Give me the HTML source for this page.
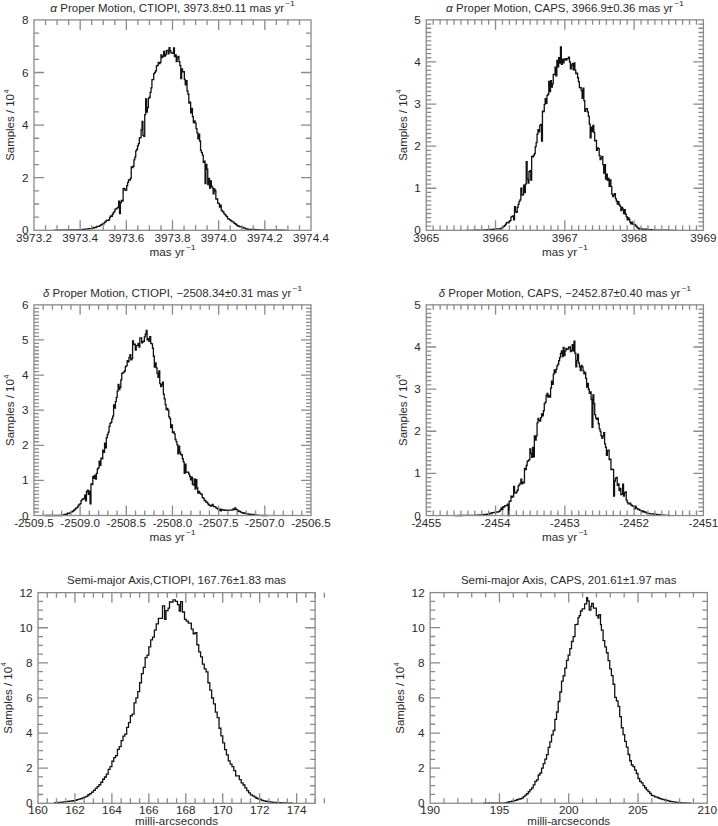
<!DOCTYPE html>
<html><head><meta charset="utf-8"><style>
html,body{margin:0;padding:0;background:#fff;}
svg{display:block;}
text{font-family:"Liberation Sans",sans-serif;fill:#2a2a2a;}
</style></head><body>
<svg width="718" height="826" viewBox="0 0 718 826">
<rect width="718" height="826" fill="#fff"/>
<path d="M53.81,230.30L53.81,230.30H54.71V230.29H55.61V230.27H56.51V230.26H57.41V230.24H58.31V230.22H59.21V230.20H60.11V230.18H61.01V230.15H61.91V230.15H62.81V230.13H63.71V230.09H64.61V230.08H65.51V230.06H66.41V230.05H67.31V230.05H68.21V230.01H69.11V229.99H70.01V229.99H70.91V229.97H71.81V229.94H72.71V229.93H73.61V229.90H74.51V229.90H75.41V229.86H76.31V229.95H77.21V229.81H78.11V229.79H79.01V229.78H79.91V229.78H80.81V229.63H81.71V229.56H82.61V229.42H83.51V229.38H84.41V229.17H85.31V229.14H86.21V229.12H87.11V228.94H88.02V228.83H88.92V228.71H89.82V228.69H90.72V228.61H91.62V228.32H92.52V228.12H93.42V227.76H94.32V227.36H95.22V227.51H96.12V226.87H97.02V226.39H97.92V226.43H98.82V226.32H99.72V225.59H100.62V224.94H101.52V224.48H102.42V223.90H103.32V223.95H104.22V222.41H105.12V221.90H106.02V220.62H106.92V220.19H107.82V220.46H108.72V219.91H109.62V217.42H110.52V215.96H111.42V216.30H112.32V214.26H113.22V212.56H114.12V211.34H115.02V209.10H115.92V208.83H116.82V208.20H117.72V207.46H118.62V201.03H119.52V213.60H120.42V202.53H121.32V200.38H122.22V201.18H123.12V188.40H124.03V188.74H124.93V190.27H125.83V190.18H126.73V185.53H127.63V182.43H128.53V179.90H129.43V180.00H130.33V178.33H131.23V166.82H132.13V167.63H133.03V166.23H133.93V159.81H134.83V157.15H135.73V150.83H136.63V149.31H137.53V145.81H138.43V143.65H139.33V137.94H140.23V137.58H141.13V129.62H142.03V121.31H142.93V135.29H143.83V136.38H144.73V114.64H145.63V98.97H146.53V112.18H147.43V107.60H148.33V98.36H149.23V97.23H150.13V92.46H151.03V87.80H151.93V79.69H152.83V79.68H153.73V73.54H154.63V72.39H155.53V70.89H156.43V65.85H157.33V65.46H158.23V62.36H159.13V63.57H160.04V62.32H160.94V54.82H161.84V57.62H162.74V56.45H163.64V51.29H164.54V56.12H165.44V54.52H166.34V50.58H167.24V50.29H168.14V53.88H169.04V47.57H169.94V50.75H170.84V52.55H171.74V53.07H172.64V53.36H173.54V47.92H174.44V56.72H175.34V54.95H176.24V61.53H177.14V57.49H178.04V56.41H178.94V61.59H179.84V65.61H180.74V78.52H181.64V68.79H182.54V71.85H183.44V71.72H184.34V79.48H185.24V84.94H186.14V80.77H187.04V90.98H187.94V94.24H188.84V103.19H189.74V102.12H190.64V112.74H191.54V108.41H192.44V116.68H193.34V122.68H194.24V120.95H195.14V123.22H196.05V128.70H196.95V132.83H197.85V138.91H198.75V134.11H199.65V140.99H200.55V150.36H201.45V152.53H202.35V155.08H203.25V162.43H204.15V161.27H205.05V183.48H205.95V164.33H206.85V169.16H207.75V184.54H208.65V178.34H209.55V188.21H210.45V180.98H211.35V186.24H212.25V187.94H213.15V193.85H214.05V188.81H214.95V190.73H215.85V199.19H216.75V199.02H217.65V203.03H218.55V203.66H219.45V207.15H220.35V205.14H221.25V210.22H222.15V211.47H223.05V212.02H223.95V213.96H224.85V214.66H225.75V215.97H226.65V216.69H227.55V218.91H228.45V218.83H229.35V219.71H230.25V220.44H231.15V220.93H232.06V221.79H232.96V221.92H233.86V223.04H234.76V223.62H235.66V224.27H236.56V225.06H237.46V225.98H238.36V225.89H239.26V226.56H240.16V226.81H241.06V226.93H241.96V227.21H242.86V227.65H243.76V228.22H244.66V228.19H245.56V228.94H246.46V228.98H247.36V229.14H248.26V229.35H249.16V229.40H250.06V229.38H250.96V229.45H251.86V229.48H252.76V229.58H253.66V229.52H254.56V229.56H255.46V229.59H256.36V229.74H257.26V229.59H258.16V229.82H259.06V229.88H259.96V229.93H260.86V229.97H261.76V230.03H262.66V230.07H263.56V230.13H264.46V230.17H265.36V230.17H266.26V230.18H267.16V230.19H268.07V230.19H268.97V230.19H269.87V230.20H270.77V230.21H271.67V230.21H272.57V230.22H273.47V230.22H274.37V230.23H275.27V230.23H276.17V230.24H277.07V230.24H277.97V230.25H278.87V230.25H279.77V230.25H280.67V230.26H281.57V230.27H282.47V230.27H283.37V230.28H284.27V230.28H285.17V230.29H286.07V230.29H286.97V230.30H287.87" fill="none" stroke="#111" stroke-width="1.3" stroke-linejoin="miter"/>
<path d="M45.54,230.30v-5M45.54,19.90v5M57.08,230.30v-5M57.08,19.90v5M68.63,230.30v-5M68.63,19.90v5M80.17,230.30v-10M80.17,19.90v10M91.71,230.30v-5M91.71,19.90v5M103.25,230.30v-5M103.25,19.90v5M114.79,230.30v-5M114.79,19.90v5M126.33,230.30v-10M126.33,19.90v10M137.87,230.30v-5M137.87,19.90v5M149.42,230.30v-5M149.42,19.90v5M160.96,230.30v-5M160.96,19.90v5M172.50,230.30v-10M172.50,19.90v10M184.04,230.30v-5M184.04,19.90v5M195.58,230.30v-5M195.58,19.90v5M207.12,230.30v-5M207.12,19.90v5M218.67,230.30v-10M218.67,19.90v10M230.21,230.30v-5M230.21,19.90v5M241.75,230.30v-5M241.75,19.90v5M253.29,230.30v-5M253.29,19.90v5M264.83,230.30v-10M264.83,19.90v10M276.37,230.30v-5M276.37,19.90v5M287.92,230.30v-5M287.92,19.90v5M299.46,230.30v-5M299.46,19.90v5M34.00,217.15h5M311.00,217.15h-5M34.00,204.00h5M311.00,204.00h-5M34.00,190.85h5M311.00,190.85h-5M34.00,177.70h10M311.00,177.70h-10M34.00,164.55h5M311.00,164.55h-5M34.00,151.40h5M311.00,151.40h-5M34.00,138.25h5M311.00,138.25h-5M34.00,125.10h10M311.00,125.10h-10M34.00,111.95h5M311.00,111.95h-5M34.00,98.80h5M311.00,98.80h-5M34.00,85.65h5M311.00,85.65h-5M34.00,72.50h10M311.00,72.50h-10M34.00,59.35h5M311.00,59.35h-5M34.00,46.20h5M311.00,46.20h-5M34.00,33.05h5M311.00,33.05h-5" fill="none" stroke="#8a8a8a" stroke-width="1.3"/>
<rect x="34.00" y="19.90" width="277.00" height="210.40" fill="none" stroke="#8a8a8a" stroke-width="1.3"/>
<text x="34.00" y="241.90" font-size="10.40" text-anchor="middle" textLength="35.87" lengthAdjust="spacingAndGlyphs">3973.2</text>
<text x="80.17" y="241.90" font-size="10.40" text-anchor="middle" textLength="35.87" lengthAdjust="spacingAndGlyphs">3973.4</text>
<text x="126.33" y="241.90" font-size="10.40" text-anchor="middle" textLength="35.87" lengthAdjust="spacingAndGlyphs">3973.6</text>
<text x="172.50" y="241.90" font-size="10.40" text-anchor="middle" textLength="35.87" lengthAdjust="spacingAndGlyphs">3973.8</text>
<text x="218.67" y="241.90" font-size="10.40" text-anchor="middle" textLength="35.87" lengthAdjust="spacingAndGlyphs">3974.0</text>
<text x="264.83" y="241.90" font-size="10.40" text-anchor="middle" textLength="35.87" lengthAdjust="spacingAndGlyphs">3974.2</text>
<text x="311.00" y="241.90" font-size="10.40" text-anchor="middle" textLength="35.87" lengthAdjust="spacingAndGlyphs">3974.4</text>
<text x="28.50" y="234.30" font-size="10.40" text-anchor="end" textLength="6.52" lengthAdjust="spacingAndGlyphs">0</text>
<text x="28.50" y="181.70" font-size="10.40" text-anchor="end" textLength="6.52" lengthAdjust="spacingAndGlyphs">2</text>
<text x="28.50" y="129.10" font-size="10.40" text-anchor="end" textLength="6.52" lengthAdjust="spacingAndGlyphs">4</text>
<text x="28.50" y="76.50" font-size="10.40" text-anchor="end" textLength="6.52" lengthAdjust="spacingAndGlyphs">6</text>
<text x="28.50" y="23.90" font-size="10.40" text-anchor="end" textLength="6.52" lengthAdjust="spacingAndGlyphs">8</text>
<text x="50.32" y="11.60" font-size="10.40" text-anchor="start" textLength="6.76" lengthAdjust="spacingAndGlyphs" font-style="italic">α</text>
<text x="60.34" y="11.60" font-size="10.40" text-anchor="start" textLength="223.72" lengthAdjust="spacingAndGlyphs">Proper Motion, CTIOPI, 3973.8±0.11 mas yr</text>
<text x="284.86" y="6.00" font-size="6.90" text-anchor="start" textLength="10.02" lengthAdjust="spacingAndGlyphs">−1</text>
<text x="149.62" y="255.70" font-size="10.40" text-anchor="start" textLength="35.14" lengthAdjust="spacingAndGlyphs">mas yr</text>
<text x="185.56" y="250.10" font-size="6.90" text-anchor="start" textLength="10.02" lengthAdjust="spacingAndGlyphs">−1</text>
<g transform="translate(14.40,160.86) rotate(-90)"><text x="0.00" y="0.00" font-size="10.40" text-anchor="start" textLength="66.79" lengthAdjust="spacingAndGlyphs">Samples / 10</text><text x="67.29" y="-5.60" font-size="6.90" text-anchor="start" textLength="4.33" lengthAdjust="spacingAndGlyphs">4</text></g>
<path d="M464.98,230.35L464.98,230.35H465.88V230.34H466.78V230.33H467.68V230.33H468.58V230.32H469.49V230.31H470.39V230.30H471.29V230.30H472.19V230.30H473.09V230.28H473.99V230.27H474.89V230.27H475.79V230.26H476.69V230.24H477.59V230.25H478.49V230.25H479.39V230.24H480.29V230.23H481.19V230.23H482.10V230.16H483.00V230.08H483.90V230.00H484.80V229.96H485.70V229.89H486.60V229.84H487.50V229.77H488.40V229.65H489.30V229.55H490.20V229.50H491.10V229.46H492.00V229.34H492.90V229.29H493.81V229.27H494.71V229.22H495.61V228.88H496.51V228.95H497.41V228.87H498.31V228.90H499.21V228.86H500.11V228.59H501.01V228.37H501.91V227.73H502.81V226.92H503.71V226.41H504.61V225.32H505.51V224.09H506.42V222.69H507.32V222.50H508.22V222.80H509.12V221.27H510.02V220.62H510.92V217.17H511.82V216.42H512.72V216.02H513.62V219.91H514.52V206.55H515.42V211.76H516.32V212.41H517.22V207.27H518.13V204.40H519.03V201.40H519.93V199.87H520.83V188.16H521.73V195.17H522.63V194.82H523.53V185.19H524.43V192.49H525.33V184.08H526.23V161.66H527.13V179.40H528.03V183.19H528.93V171.69H529.83V170.62H530.74V180.11H531.64V156.52H532.54V156.82H533.44V155.32H534.34V153.60H535.24V146.57H536.14V142.68H537.04V134.07H537.94V129.55H538.84V131.97H539.74V125.32H540.64V124.47H541.54V141.03H542.45V111.12H543.35V111.71H544.25V104.36H545.15V98.76H546.05V103.43H546.95V95.33H547.85V94.23H548.75V81.37H549.65V91.65H550.55V80.55H551.45V86.99H552.35V83.89H553.25V74.46H554.15V74.55H555.06V67.16H555.96V75.76H556.86V60.46H557.76V66.76H558.66V57.69H559.56V62.99H560.46V47.02H561.36V64.44H562.26V59.17H563.16V62.85H564.06V59.57H564.96V58.57H565.86V60.12H566.77V58.95H567.67V58.49H568.57V57.23H569.47V61.82H570.37V68.86H571.27V65.27H572.17V63.64H573.07V69.85H573.97V62.93H574.87V70.04H575.77V73.71H576.67V73.13H577.57V77.76H578.47V81.76H579.38V87.51H580.28V87.74H581.18V90.53H582.08V98.28H582.98V88.05H583.88V100.66H584.78V111.25H585.68V109.01H586.58V108.68H587.48V111.93H588.38V116.37H589.28V124.09H590.18V137.82H591.08V127.14H591.99V131.69H592.89V125.32H593.79V132.39H594.69V140.89H595.59V140.33H596.49V150.46H597.39V147.86H598.29V148.61H599.19V155.62H600.09V159.63H600.99V158.17H601.89V156.40H602.79V164.59H603.70V173.04H604.60V164.53H605.50V179.16H606.40V174.25H607.30V180.33H608.20V178.40H609.10V186.32H610.00V179.79H610.90V186.62H611.80V194.06H612.70V196.62H613.60V195.21H614.50V193.56H615.40V198.62H616.31V201.01H617.21V204.09H618.11V201.71H619.01V204.75H619.91V206.36H620.81V210.60H621.71V207.29H622.61V209.04H623.51V213.59H624.41V209.65H625.31V214.23H626.21V216.61H627.11V219.97H628.02V217.77H628.92V219.47H629.82V222.18H630.72V223.96H631.62V222.10H632.52V224.17H633.42V224.70H634.32V224.50H635.22V225.49H636.12V226.45H637.02V227.58H637.92V228.05H638.82V229.00H639.72V228.77H640.63V228.85H641.53V229.01H642.43V229.16H643.33V229.07H644.23V229.19H645.13V229.21H646.03V229.32H646.93V229.48H647.83V229.57H648.73V229.69H649.63V229.71H650.53V229.76H651.43V229.87H652.34V229.89H653.24V230.04H654.14V230.12H655.04V230.15H655.94V230.17H656.84V230.14H657.74V230.18H658.64V230.19H659.54V230.20H660.44V230.20H661.34V230.22H662.24V230.21H663.14V230.23H664.04V230.23H664.95V230.25H665.85V230.25H666.75V230.26H667.65V230.27H668.55V230.26H669.45V230.28H670.35V230.29H671.25V230.30H672.15V230.30H673.05V230.31H673.95V230.32H674.85V230.33H675.75V230.34H676.66V230.34H677.56" fill="none" stroke="#111" stroke-width="1.3" stroke-linejoin="miter"/>
<path d="M433.18,230.35v-5M433.18,19.85v5M440.11,230.35v-5M440.11,19.85v5M447.04,230.35v-5M447.04,19.85v5M453.97,230.35v-5M453.97,19.85v5M460.89,230.35v-5M460.89,19.85v5M467.82,230.35v-5M467.82,19.85v5M474.75,230.35v-5M474.75,19.85v5M481.68,230.35v-5M481.68,19.85v5M488.61,230.35v-5M488.61,19.85v5M495.54,230.35v-10M495.54,19.85v10M502.47,230.35v-5M502.47,19.85v5M509.39,230.35v-5M509.39,19.85v5M516.32,230.35v-5M516.32,19.85v5M523.25,230.35v-5M523.25,19.85v5M530.18,230.35v-5M530.18,19.85v5M537.11,230.35v-5M537.11,19.85v5M544.04,230.35v-5M544.04,19.85v5M550.97,230.35v-5M550.97,19.85v5M557.90,230.35v-5M557.90,19.85v5M564.83,230.35v-10M564.83,19.85v10M571.75,230.35v-5M571.75,19.85v5M578.68,230.35v-5M578.68,19.85v5M585.61,230.35v-5M585.61,19.85v5M592.54,230.35v-5M592.54,19.85v5M599.47,230.35v-5M599.47,19.85v5M606.40,230.35v-5M606.40,19.85v5M613.33,230.35v-5M613.33,19.85v5M620.26,230.35v-5M620.26,19.85v5M627.18,230.35v-5M627.18,19.85v5M634.11,230.35v-10M634.11,19.85v10M641.04,230.35v-5M641.04,19.85v5M647.97,230.35v-5M647.97,19.85v5M654.90,230.35v-5M654.90,19.85v5M661.83,230.35v-5M661.83,19.85v5M668.76,230.35v-5M668.76,19.85v5M675.68,230.35v-5M675.68,19.85v5M682.61,230.35v-5M682.61,19.85v5M689.54,230.35v-5M689.54,19.85v5M696.47,230.35v-5M696.47,19.85v5M426.25,226.14h5M703.40,226.14h-5M426.25,221.93h5M703.40,221.93h-5M426.25,217.72h5M703.40,217.72h-5M426.25,213.51h5M703.40,213.51h-5M426.25,209.30h5M703.40,209.30h-5M426.25,205.09h5M703.40,205.09h-5M426.25,200.88h5M703.40,200.88h-5M426.25,196.67h5M703.40,196.67h-5M426.25,192.46h5M703.40,192.46h-5M426.25,188.25h10M703.40,188.25h-10M426.25,184.04h5M703.40,184.04h-5M426.25,179.83h5M703.40,179.83h-5M426.25,175.62h5M703.40,175.62h-5M426.25,171.41h5M703.40,171.41h-5M426.25,167.20h5M703.40,167.20h-5M426.25,162.99h5M703.40,162.99h-5M426.25,158.78h5M703.40,158.78h-5M426.25,154.57h5M703.40,154.57h-5M426.25,150.36h5M703.40,150.36h-5M426.25,146.15h10M703.40,146.15h-10M426.25,141.94h5M703.40,141.94h-5M426.25,137.73h5M703.40,137.73h-5M426.25,133.52h5M703.40,133.52h-5M426.25,129.31h5M703.40,129.31h-5M426.25,125.10h5M703.40,125.10h-5M426.25,120.89h5M703.40,120.89h-5M426.25,116.68h5M703.40,116.68h-5M426.25,112.47h5M703.40,112.47h-5M426.25,108.26h5M703.40,108.26h-5M426.25,104.05h10M703.40,104.05h-10M426.25,99.84h5M703.40,99.84h-5M426.25,95.63h5M703.40,95.63h-5M426.25,91.42h5M703.40,91.42h-5M426.25,87.21h5M703.40,87.21h-5M426.25,83.00h5M703.40,83.00h-5M426.25,78.79h5M703.40,78.79h-5M426.25,74.58h5M703.40,74.58h-5M426.25,70.37h5M703.40,70.37h-5M426.25,66.16h5M703.40,66.16h-5M426.25,61.95h10M703.40,61.95h-10M426.25,57.74h5M703.40,57.74h-5M426.25,53.53h5M703.40,53.53h-5M426.25,49.32h5M703.40,49.32h-5M426.25,45.11h5M703.40,45.11h-5M426.25,40.90h5M703.40,40.90h-5M426.25,36.69h5M703.40,36.69h-5M426.25,32.48h5M703.40,32.48h-5M426.25,28.27h5M703.40,28.27h-5M426.25,24.06h5M703.40,24.06h-5" fill="none" stroke="#8a8a8a" stroke-width="1.3"/>
<rect x="426.25" y="19.85" width="277.15" height="210.50" fill="none" stroke="#8a8a8a" stroke-width="1.3"/>
<text x="426.25" y="241.90" font-size="10.40" text-anchor="middle" textLength="26.09" lengthAdjust="spacingAndGlyphs">3965</text>
<text x="495.54" y="241.90" font-size="10.40" text-anchor="middle" textLength="26.09" lengthAdjust="spacingAndGlyphs">3966</text>
<text x="564.83" y="241.90" font-size="10.40" text-anchor="middle" textLength="26.09" lengthAdjust="spacingAndGlyphs">3967</text>
<text x="634.11" y="241.90" font-size="10.40" text-anchor="middle" textLength="26.09" lengthAdjust="spacingAndGlyphs">3968</text>
<text x="703.40" y="241.90" font-size="10.40" text-anchor="middle" textLength="26.09" lengthAdjust="spacingAndGlyphs">3969</text>
<text x="420.75" y="234.35" font-size="10.40" text-anchor="end" textLength="6.52" lengthAdjust="spacingAndGlyphs">0</text>
<text x="420.75" y="192.25" font-size="10.40" text-anchor="end" textLength="6.52" lengthAdjust="spacingAndGlyphs">1</text>
<text x="420.75" y="150.15" font-size="10.40" text-anchor="end" textLength="6.52" lengthAdjust="spacingAndGlyphs">2</text>
<text x="420.75" y="108.05" font-size="10.40" text-anchor="end" textLength="6.52" lengthAdjust="spacingAndGlyphs">3</text>
<text x="420.75" y="65.95" font-size="10.40" text-anchor="end" textLength="6.52" lengthAdjust="spacingAndGlyphs">4</text>
<text x="420.75" y="23.85" font-size="10.40" text-anchor="end" textLength="6.52" lengthAdjust="spacingAndGlyphs">5</text>
<text x="446.07" y="11.60" font-size="10.40" text-anchor="start" textLength="6.76" lengthAdjust="spacingAndGlyphs" font-style="italic">α</text>
<text x="456.09" y="11.60" font-size="10.40" text-anchor="start" textLength="216.86" lengthAdjust="spacingAndGlyphs">Proper Motion, CAPS, 3966.9±0.36 mas yr</text>
<text x="673.75" y="6.00" font-size="6.90" text-anchor="start" textLength="10.02" lengthAdjust="spacingAndGlyphs">−1</text>
<text x="541.94" y="255.70" font-size="10.40" text-anchor="start" textLength="35.14" lengthAdjust="spacingAndGlyphs">mas yr</text>
<text x="577.89" y="250.10" font-size="6.90" text-anchor="start" textLength="10.02" lengthAdjust="spacingAndGlyphs">−1</text>
<g transform="translate(406.90,160.86) rotate(-90)"><text x="0.00" y="0.00" font-size="10.40" text-anchor="start" textLength="66.79" lengthAdjust="spacingAndGlyphs">Samples / 10</text><text x="67.29" y="-5.60" font-size="6.90" text-anchor="start" textLength="4.33" lengthAdjust="spacingAndGlyphs">4</text></g>
<path d="M44.81,515.50L44.81,515.50H45.72V515.50H46.62V515.50H47.53V515.50H48.43V515.50H49.34V515.50H50.24V515.50H51.15V515.50H52.05V515.50H52.96V515.50H53.86V515.50H54.77V515.50H55.67V515.50H56.58V515.50H57.48V515.50H58.39V515.50H59.29V515.50H60.20V515.50H61.10V515.50H62.01V515.30H62.91V514.97H63.82V514.68H64.72V514.40H65.63V514.06H66.53V514.29H67.44V513.14H68.34V513.33H69.25V513.12H70.15V512.57H71.06V512.15H71.96V511.68H72.87V511.00H73.77V510.19H74.68V509.51H75.58V508.15H76.49V507.79H77.39V506.93H78.30V505.06H79.20V504.39H80.11V503.53H81.01V500.56H81.92V499.34H82.82V498.99H83.73V498.41H84.63V495.19H85.54V500.91H86.44V491.70H87.35V490.24H88.25V494.36H89.16V491.06H90.06V503.85H90.97V483.84H91.87V484.50H92.78V476.47H93.68V478.44H94.59V475.05H95.49V479.04H96.40V473.39H97.30V468.87H98.21V467.87H99.11V461.23H100.02V465.36H100.92V458.11H101.83V458.93H102.73V450.23H103.64V452.39H104.54V443.09H105.45V447.88H106.35V437.67H107.26V434.69H108.16V432.17H109.07V426.33H109.97V423.46H110.88V422.31H111.78V418.95H112.69V416.13H113.59V404.81H114.50V408.01H115.40V401.62H116.31V397.40H117.21V391.18H118.12V384.42H119.02V389.71H119.93V387.23H120.83V379.95H121.74V373.29H122.64V372.92H123.55V372.17H124.45V371.02H125.36V366.62H126.26V365.57H127.17V360.62H128.07V361.93H128.98V357.29H129.88V354.63H130.79V359.84H131.69V358.69H132.60V340.98H133.50V344.56H134.41V344.03H135.31V350.00H136.22V345.65H137.12V345.33H138.03V343.28H138.93V347.13H139.84V337.87H140.74V337.82H141.65V342.90H142.55V341.77H143.46V341.26H144.36V336.79H145.27V334.23H146.17V330.35H147.08V339.82H147.98V338.67H148.89V341.40H149.79V336.68H150.70V343.43H151.60V343.83H152.51V348.26H153.41V356.25H154.32V367.14H155.22V362.79H156.13V367.93H157.03V373.35H157.94V377.30H158.84V370.94H159.75V383.65H160.65V386.69H161.56V384.73H162.46V382.08H163.37V394.03H164.27V398.81H165.18V404.56H166.08V409.53H166.99V408.45H167.89V410.28H168.80V416.83H169.70V418.65H170.61V427.64H171.51V424.98H172.42V432.50H173.32V431.93H174.23V433.82H175.13V439.30H176.04V441.64H176.94V444.89H177.85V453.90H178.75V446.05H179.66V452.24H180.56V454.49H181.47V454.74H182.37V458.74H183.28V461.97H184.18V473.42H185.09V464.23H186.00V472.07H186.90V472.41H187.81V472.20H188.71V474.10H189.62V476.51H190.52V479.85H191.43V477.04H192.33V484.09H193.24V485.01H194.14V478.98H195.05V489.15H195.95V479.74H196.86V487.81H197.76V493.06H198.67V491.31H199.57V493.03H200.48V493.80H201.38V494.52H202.29V497.66H203.19V498.21H204.10V500.59H205.00V500.28H205.91V502.47H206.81V502.26H207.72V503.90H208.62V504.88H209.53V505.40H210.43V506.08H211.34V505.35H212.24V504.49H213.15V506.31H214.05V506.67H214.96V506.79H215.86V507.92H216.77V508.42H217.67V509.14H218.58V510.05H219.48V509.10H220.39V510.76H221.29V509.45H222.20V509.98H223.10V509.85H224.01V510.25H224.91V510.42H225.82V510.14H226.72V510.43H227.63V510.33H228.53V510.09H229.44V510.13H230.34V510.05H231.25V510.13H232.15V509.84H233.06V509.01H233.96V509.67H234.87V507.92H235.77V509.41H236.68V509.68H237.58V511.61H238.49V510.98H239.39V511.41H240.30V511.93H241.20V512.54H242.11V512.55H243.01V513.27H243.92V512.83H244.82V513.37H245.73V513.55H246.63V513.90H247.54V513.90H248.44V514.07H249.35V514.26H250.25V514.30H251.16V514.35H252.06V514.43H252.97V514.48H253.87V514.73H254.78V514.95H255.68V515.12H256.59V515.19H257.49V515.21H258.40V515.31H259.30V515.36H260.21V515.41H261.11V515.47H262.02V515.50H262.92V515.50H263.83V515.50H264.73V515.50H265.64V515.50H266.54V515.50H267.45" fill="none" stroke="#111" stroke-width="1.3" stroke-linejoin="miter"/>
<path d="M43.18,515.50v-5M43.18,304.85v5M52.42,515.50v-5M52.42,304.85v5M61.66,515.50v-5M61.66,304.85v5M70.89,515.50v-5M70.89,304.85v5M80.12,515.50v-10M80.12,304.85v10M89.36,515.50v-5M89.36,304.85v5M98.59,515.50v-5M98.59,304.85v5M107.83,515.50v-5M107.83,304.85v5M117.07,515.50v-5M117.07,304.85v5M126.30,515.50v-10M126.30,304.85v10M135.53,515.50v-5M135.53,304.85v5M144.77,515.50v-5M144.77,304.85v5M154.01,515.50v-5M154.01,304.85v5M163.24,515.50v-5M163.24,304.85v5M172.48,515.50v-10M172.48,304.85v10M181.71,515.50v-5M181.71,304.85v5M190.94,515.50v-5M190.94,304.85v5M200.18,515.50v-5M200.18,304.85v5M209.42,515.50v-5M209.42,304.85v5M218.65,515.50v-10M218.65,304.85v10M227.88,515.50v-5M227.88,304.85v5M237.12,515.50v-5M237.12,304.85v5M246.36,515.50v-5M246.36,304.85v5M255.59,515.50v-5M255.59,304.85v5M264.83,515.50v-10M264.83,304.85v10M274.06,515.50v-5M274.06,304.85v5M283.29,515.50v-5M283.29,304.85v5M292.53,515.50v-5M292.53,304.85v5M301.77,515.50v-5M301.77,304.85v5M33.95,511.99h5M311.00,511.99h-5M33.95,508.48h5M311.00,508.48h-5M33.95,504.97h5M311.00,504.97h-5M33.95,501.46h5M311.00,501.46h-5M33.95,497.95h5M311.00,497.95h-5M33.95,494.44h5M311.00,494.44h-5M33.95,490.92h5M311.00,490.92h-5M33.95,487.41h5M311.00,487.41h-5M33.95,483.90h5M311.00,483.90h-5M33.95,480.39h10M311.00,480.39h-10M33.95,476.88h5M311.00,476.88h-5M33.95,473.37h5M311.00,473.37h-5M33.95,469.86h5M311.00,469.86h-5M33.95,466.35h5M311.00,466.35h-5M33.95,462.84h5M311.00,462.84h-5M33.95,459.33h5M311.00,459.33h-5M33.95,455.82h5M311.00,455.82h-5M33.95,452.31h5M311.00,452.31h-5M33.95,448.79h5M311.00,448.79h-5M33.95,445.28h10M311.00,445.28h-10M33.95,441.77h5M311.00,441.77h-5M33.95,438.26h5M311.00,438.26h-5M33.95,434.75h5M311.00,434.75h-5M33.95,431.24h5M311.00,431.24h-5M33.95,427.73h5M311.00,427.73h-5M33.95,424.22h5M311.00,424.22h-5M33.95,420.71h5M311.00,420.71h-5M33.95,417.20h5M311.00,417.20h-5M33.95,413.69h5M311.00,413.69h-5M33.95,410.18h10M311.00,410.18h-10M33.95,406.66h5M311.00,406.66h-5M33.95,403.15h5M311.00,403.15h-5M33.95,399.64h5M311.00,399.64h-5M33.95,396.13h5M311.00,396.13h-5M33.95,392.62h5M311.00,392.62h-5M33.95,389.11h5M311.00,389.11h-5M33.95,385.60h5M311.00,385.60h-5M33.95,382.09h5M311.00,382.09h-5M33.95,378.58h5M311.00,378.58h-5M33.95,375.07h10M311.00,375.07h-10M33.95,371.56h5M311.00,371.56h-5M33.95,368.05h5M311.00,368.05h-5M33.95,364.53h5M311.00,364.53h-5M33.95,361.02h5M311.00,361.02h-5M33.95,357.51h5M311.00,357.51h-5M33.95,354.00h5M311.00,354.00h-5M33.95,350.49h5M311.00,350.49h-5M33.95,346.98h5M311.00,346.98h-5M33.95,343.47h5M311.00,343.47h-5M33.95,339.96h10M311.00,339.96h-10M33.95,336.45h5M311.00,336.45h-5M33.95,332.94h5M311.00,332.94h-5M33.95,329.43h5M311.00,329.43h-5M33.95,325.92h5M311.00,325.92h-5M33.95,322.40h5M311.00,322.40h-5M33.95,318.89h5M311.00,318.89h-5M33.95,315.38h5M311.00,315.38h-5M33.95,311.87h5M311.00,311.87h-5M33.95,308.36h5M311.00,308.36h-5" fill="none" stroke="#8a8a8a" stroke-width="1.3"/>
<rect x="33.95" y="304.85" width="277.05" height="210.65" fill="none" stroke="#8a8a8a" stroke-width="1.3"/>
<text x="33.95" y="526.80" font-size="10.40" text-anchor="middle" textLength="39.56" lengthAdjust="spacingAndGlyphs">-2509.5</text>
<text x="80.12" y="526.80" font-size="10.40" text-anchor="middle" textLength="39.56" lengthAdjust="spacingAndGlyphs">-2509.0</text>
<text x="126.30" y="526.80" font-size="10.40" text-anchor="middle" textLength="39.56" lengthAdjust="spacingAndGlyphs">-2508.5</text>
<text x="172.48" y="526.80" font-size="10.40" text-anchor="middle" textLength="39.56" lengthAdjust="spacingAndGlyphs">-2508.0</text>
<text x="218.65" y="526.80" font-size="10.40" text-anchor="middle" textLength="39.56" lengthAdjust="spacingAndGlyphs">-2507.5</text>
<text x="264.83" y="526.80" font-size="10.40" text-anchor="middle" textLength="39.56" lengthAdjust="spacingAndGlyphs">-2507.0</text>
<text x="311.00" y="526.80" font-size="10.40" text-anchor="middle" textLength="39.56" lengthAdjust="spacingAndGlyphs">-2506.5</text>
<text x="28.45" y="519.50" font-size="10.40" text-anchor="end" textLength="6.52" lengthAdjust="spacingAndGlyphs">0</text>
<text x="28.45" y="484.39" font-size="10.40" text-anchor="end" textLength="6.52" lengthAdjust="spacingAndGlyphs">1</text>
<text x="28.45" y="449.28" font-size="10.40" text-anchor="end" textLength="6.52" lengthAdjust="spacingAndGlyphs">2</text>
<text x="28.45" y="414.18" font-size="10.40" text-anchor="end" textLength="6.52" lengthAdjust="spacingAndGlyphs">3</text>
<text x="28.45" y="379.07" font-size="10.40" text-anchor="end" textLength="6.52" lengthAdjust="spacingAndGlyphs">4</text>
<text x="28.45" y="343.96" font-size="10.40" text-anchor="end" textLength="6.52" lengthAdjust="spacingAndGlyphs">5</text>
<text x="28.45" y="308.85" font-size="10.40" text-anchor="end" textLength="6.52" lengthAdjust="spacingAndGlyphs">6</text>
<text x="42.98" y="296.50" font-size="10.40" text-anchor="start" textLength="6.27" lengthAdjust="spacingAndGlyphs" font-style="italic">δ</text>
<text x="52.51" y="296.50" font-size="10.40" text-anchor="start" textLength="238.83" lengthAdjust="spacingAndGlyphs">Proper Motion, CTIOPI, −2508.34±0.31 mas yr</text>
<text x="292.14" y="290.90" font-size="6.90" text-anchor="start" textLength="10.02" lengthAdjust="spacingAndGlyphs">−1</text>
<text x="149.59" y="540.50" font-size="10.40" text-anchor="start" textLength="35.14" lengthAdjust="spacingAndGlyphs">mas yr</text>
<text x="185.54" y="534.90" font-size="6.90" text-anchor="start" textLength="10.02" lengthAdjust="spacingAndGlyphs">−1</text>
<g transform="translate(14.40,445.93) rotate(-90)"><text x="0.00" y="0.00" font-size="10.40" text-anchor="start" textLength="66.79" lengthAdjust="spacingAndGlyphs">Samples / 10</text><text x="67.29" y="-5.60" font-size="6.90" text-anchor="start" textLength="4.33" lengthAdjust="spacingAndGlyphs">4</text></g>
<path d="M455.12,515.55L455.12,515.54H456.02V515.53H456.92V515.53H457.82V515.51H458.72V515.50H459.62V515.50H460.52V515.49H461.42V515.48H462.32V515.47H463.22V515.45H464.12V515.45H465.02V515.44H465.93V515.43H466.83V515.42H467.73V515.41H468.63V515.40H469.53V515.32H470.43V515.39H471.33V515.37H472.23V515.36H473.13V515.38H474.03V515.35H474.93V515.29H475.83V515.21H476.73V515.19H477.63V515.05H478.53V515.03H479.43V514.95H480.33V514.86H481.24V514.79H482.14V514.67H483.04V514.70H483.94V514.61H484.84V514.51H485.74V514.55H486.64V514.26H487.54V514.40H488.44V514.29H489.34V513.65H490.24V513.26H491.14V513.60H492.04V512.67H492.94V512.57H493.84V512.44H494.74V512.51H495.64V511.85H496.54V512.16H497.45V512.07H498.35V511.53H499.25V511.04H500.15V509.79H501.05V507.93H501.95V509.54H502.85V506.66H503.75V507.21H504.65V505.84H505.55V505.72H506.45V505.28H507.35V504.16H508.25V515.55H509.15V501.10H510.05V501.41H510.95V496.08H511.85V497.37H512.76V496.24H513.66V486.37H514.56V493.08H515.46V493.03H516.36V491.88H517.26V490.24H518.16V485.78H519.06V484.82H519.96V483.28H520.86V479.06H521.76V483.78H522.66V482.13H523.56V482.96H524.46V468.49H525.36V469.55H526.26V465.51H527.16V461.37H528.06V460.62H528.97V459.53H529.87V448.95H530.77V453.46H531.67V457.43H532.57V447.40H533.47V456.90H534.37V436.01H535.27V440.03H536.17V435.80H537.07V422.96H537.97V418.44H538.87V420.44H539.77V421.07H540.67V417.54H541.57V413.88H542.47V415.95H543.37V410.74H544.28V403.59H545.18V402.05H546.08V395.51H546.98V393.50H547.88V397.21H548.78V395.44H549.68V397.04H550.58V388.16H551.48V381.07H552.38V384.26H553.28V374.14H554.18V369.90H555.08V372.64H555.98V369.40H556.88V365.94H557.78V364.28H558.68V360.76H559.59V357.61H560.49V353.45H561.39V350.96H562.29V356.58H563.19V347.30H564.09V355.60H564.99V350.79H565.89V348.48H566.79V349.35H567.69V349.15H568.59V347.27H569.49V346.80H570.39V351.51H571.29V350.38H572.19V344.77H573.09V351.04H573.99V341.14H574.89V353.23H575.80V366.89H576.70V360.37H577.60V354.18H578.50V362.97H579.40V366.89H580.30V370.66H581.20V365.37H582.10V366.86H583.00V370.79H583.90V373.73H584.80V372.51H585.70V378.39H586.60V387.18H587.50V383.35H588.40V389.27H589.30V393.28H590.20V391.98H591.11V399.51H592.01V427.35H592.91V394.99H593.81V403.66H594.71V414.70H595.61V417.90H596.51V419.26H597.41V418.17H598.31V423.76H599.21V428.89H600.11V431.60H601.01V435.94H601.91V438.41H602.81V436.22H603.71V432.62H604.61V443.85H605.51V447.44H606.41V455.42H607.32V450.67H608.22V450.23H609.12V459.52H610.02V459.10H610.92V469.64H611.82V469.14H612.72V469.60H613.62V496.10H614.52V480.98H615.42V478.04H616.32V477.52H617.22V485.42H618.12V483.85H619.02V490.60H619.92V488.46H620.82V494.69H621.72V494.23H622.63V484.25H623.53V496.03H624.43V492.57H625.33V491.89H626.23V500.08H627.13V502.39H628.03V503.92H628.93V503.88H629.83V503.15H630.73V504.94H631.63V505.49H632.53V506.11H633.43V506.23H634.33V508.89H635.23V506.09H636.13V508.14H637.03V508.66H637.94V509.63H638.84V509.42H639.74V510.37H640.64V510.64H641.54V511.62H642.44V510.94H643.34V512.00H644.24V511.56H645.14V512.15H646.04V512.79H646.94V513.18H647.84V513.35H648.74V513.61H649.64V513.72H650.54V513.80H651.44V513.80H652.34V513.93H653.24V514.08H654.15V514.25H655.05V514.26H655.95V514.51H656.85V514.55H657.75V514.67H658.65V514.72H659.55V514.88H660.45V515.03H661.35V515.11H662.25V515.17H663.15V515.22H664.05V515.27H664.95V515.33H665.85V515.35H666.75V515.42H667.65V515.46H668.55V515.52H669.46" fill="none" stroke="#111" stroke-width="1.3" stroke-linejoin="miter"/>
<path d="M433.23,515.55v-5M433.23,304.85v5M440.15,515.55v-5M440.15,304.85v5M447.08,515.55v-5M447.08,304.85v5M454.01,515.55v-5M454.01,304.85v5M460.94,515.55v-5M460.94,304.85v5M467.86,515.55v-5M467.86,304.85v5M474.79,515.55v-5M474.79,304.85v5M481.72,515.55v-5M481.72,304.85v5M488.65,515.55v-5M488.65,304.85v5M495.57,515.55v-10M495.57,304.85v10M502.50,515.55v-5M502.50,304.85v5M509.43,515.55v-5M509.43,304.85v5M516.36,515.55v-5M516.36,304.85v5M523.29,515.55v-5M523.29,304.85v5M530.21,515.55v-5M530.21,304.85v5M537.14,515.55v-5M537.14,304.85v5M544.07,515.55v-5M544.07,304.85v5M551.00,515.55v-5M551.00,304.85v5M557.92,515.55v-5M557.92,304.85v5M564.85,515.55v-10M564.85,304.85v10M571.78,515.55v-5M571.78,304.85v5M578.70,515.55v-5M578.70,304.85v5M585.63,515.55v-5M585.63,304.85v5M592.56,515.55v-5M592.56,304.85v5M599.49,515.55v-5M599.49,304.85v5M606.41,515.55v-5M606.41,304.85v5M613.34,515.55v-5M613.34,304.85v5M620.27,515.55v-5M620.27,304.85v5M627.20,515.55v-5M627.20,304.85v5M634.12,515.55v-10M634.12,304.85v10M641.05,515.55v-5M641.05,304.85v5M647.98,515.55v-5M647.98,304.85v5M654.91,515.55v-5M654.91,304.85v5M661.84,515.55v-5M661.84,304.85v5M668.76,515.55v-5M668.76,304.85v5M675.69,515.55v-5M675.69,304.85v5M682.62,515.55v-5M682.62,304.85v5M689.55,515.55v-5M689.55,304.85v5M696.47,515.55v-5M696.47,304.85v5M426.30,511.34h5M703.40,511.34h-5M426.30,507.12h5M703.40,507.12h-5M426.30,502.91h5M703.40,502.91h-5M426.30,498.69h5M703.40,498.69h-5M426.30,494.48h5M703.40,494.48h-5M426.30,490.27h5M703.40,490.27h-5M426.30,486.05h5M703.40,486.05h-5M426.30,481.84h5M703.40,481.84h-5M426.30,477.62h5M703.40,477.62h-5M426.30,473.41h10M703.40,473.41h-10M426.30,469.20h5M703.40,469.20h-5M426.30,464.98h5M703.40,464.98h-5M426.30,460.77h5M703.40,460.77h-5M426.30,456.55h5M703.40,456.55h-5M426.30,452.34h5M703.40,452.34h-5M426.30,448.13h5M703.40,448.13h-5M426.30,443.91h5M703.40,443.91h-5M426.30,439.70h5M703.40,439.70h-5M426.30,435.48h5M703.40,435.48h-5M426.30,431.27h10M703.40,431.27h-10M426.30,427.06h5M703.40,427.06h-5M426.30,422.84h5M703.40,422.84h-5M426.30,418.63h5M703.40,418.63h-5M426.30,414.41h5M703.40,414.41h-5M426.30,410.20h5M703.40,410.20h-5M426.30,405.99h5M703.40,405.99h-5M426.30,401.77h5M703.40,401.77h-5M426.30,397.56h5M703.40,397.56h-5M426.30,393.34h5M703.40,393.34h-5M426.30,389.13h10M703.40,389.13h-10M426.30,384.92h5M703.40,384.92h-5M426.30,380.70h5M703.40,380.70h-5M426.30,376.49h5M703.40,376.49h-5M426.30,372.27h5M703.40,372.27h-5M426.30,368.06h5M703.40,368.06h-5M426.30,363.85h5M703.40,363.85h-5M426.30,359.63h5M703.40,359.63h-5M426.30,355.42h5M703.40,355.42h-5M426.30,351.20h5M703.40,351.20h-5M426.30,346.99h10M703.40,346.99h-10M426.30,342.78h5M703.40,342.78h-5M426.30,338.56h5M703.40,338.56h-5M426.30,334.35h5M703.40,334.35h-5M426.30,330.13h5M703.40,330.13h-5M426.30,325.92h5M703.40,325.92h-5M426.30,321.71h5M703.40,321.71h-5M426.30,317.49h5M703.40,317.49h-5M426.30,313.28h5M703.40,313.28h-5M426.30,309.06h5M703.40,309.06h-5" fill="none" stroke="#8a8a8a" stroke-width="1.3"/>
<rect x="426.30" y="304.85" width="277.10" height="210.70" fill="none" stroke="#8a8a8a" stroke-width="1.3"/>
<text x="426.30" y="526.80" font-size="10.40" text-anchor="middle" textLength="29.78" lengthAdjust="spacingAndGlyphs">-2455</text>
<text x="495.57" y="526.80" font-size="10.40" text-anchor="middle" textLength="29.78" lengthAdjust="spacingAndGlyphs">-2454</text>
<text x="564.85" y="526.80" font-size="10.40" text-anchor="middle" textLength="29.78" lengthAdjust="spacingAndGlyphs">-2453</text>
<text x="634.12" y="526.80" font-size="10.40" text-anchor="middle" textLength="29.78" lengthAdjust="spacingAndGlyphs">-2452</text>
<text x="703.40" y="526.80" font-size="10.40" text-anchor="middle" textLength="29.78" lengthAdjust="spacingAndGlyphs">-2451</text>
<text x="420.80" y="519.55" font-size="10.40" text-anchor="end" textLength="6.52" lengthAdjust="spacingAndGlyphs">0</text>
<text x="420.80" y="477.41" font-size="10.40" text-anchor="end" textLength="6.52" lengthAdjust="spacingAndGlyphs">1</text>
<text x="420.80" y="435.27" font-size="10.40" text-anchor="end" textLength="6.52" lengthAdjust="spacingAndGlyphs">2</text>
<text x="420.80" y="393.13" font-size="10.40" text-anchor="end" textLength="6.52" lengthAdjust="spacingAndGlyphs">3</text>
<text x="420.80" y="350.99" font-size="10.40" text-anchor="end" textLength="6.52" lengthAdjust="spacingAndGlyphs">4</text>
<text x="420.80" y="308.85" font-size="10.40" text-anchor="end" textLength="6.52" lengthAdjust="spacingAndGlyphs">5</text>
<text x="438.79" y="296.50" font-size="10.40" text-anchor="start" textLength="6.27" lengthAdjust="spacingAndGlyphs" font-style="italic">δ</text>
<text x="448.32" y="296.50" font-size="10.40" text-anchor="start" textLength="231.97" lengthAdjust="spacingAndGlyphs">Proper Motion, CAPS, −2452.87±0.40 mas yr</text>
<text x="681.09" y="290.90" font-size="6.90" text-anchor="start" textLength="10.02" lengthAdjust="spacingAndGlyphs">−1</text>
<text x="541.97" y="540.50" font-size="10.40" text-anchor="start" textLength="35.14" lengthAdjust="spacingAndGlyphs">mas yr</text>
<text x="577.91" y="534.90" font-size="6.90" text-anchor="start" textLength="10.02" lengthAdjust="spacingAndGlyphs">−1</text>
<g transform="translate(406.90,445.96) rotate(-90)"><text x="0.00" y="0.00" font-size="10.40" text-anchor="start" textLength="66.79" lengthAdjust="spacingAndGlyphs">Samples / 10</text><text x="67.29" y="-5.60" font-size="6.90" text-anchor="start" textLength="4.33" lengthAdjust="spacingAndGlyphs">4</text></g>
<path d="M54.63,803.30L54.63,802.65H56.47V802.55H58.32V802.46H60.17V802.28H62.02V802.04H63.86V801.83H65.71V801.65H67.56V801.41H69.40V801.21H71.25V800.98H73.10V800.76H74.95V800.35H76.79V799.70H78.64V799.15H80.49V798.59H82.34V797.93H84.18V797.13H86.03V796.30H87.88V794.75H89.73V793.59H91.57V792.10H93.42V790.35H95.27V788.36H97.11V786.55H98.96V784.75H100.81V782.24H102.66V779.23H104.50V777.01H106.35V774.11H108.20V769.45H110.05V766.67H111.89V761.27H113.74V757.57H115.59V755.53H117.44V749.40H119.28V746.55H121.13V740.65H122.98V736.07H124.82V734.14H126.67V727.31H128.52V722.53H130.37V715.73H132.21V714.22H134.06V702.79H135.91V697.90H137.76V691.61H139.60V682.77H141.45V673.64H143.30V667.34H145.15V657.67H146.99V655.10H148.84V646.91H150.69V639.87H152.53V637.10H154.38V630.15H156.23V623.78H158.40V618.30H162.50V605.80H164.60V619.40H166.00V610.70H168.10V608.20H169.50V602.00H173.00V599.90H175.40V601.30H177.50V604.70H179.20V611.00H180.60V601.60H182.40V612.00H184.50V619.40H186.20V621.10H188.30V623.19H191.33V629.13H193.18V633.75H195.02V632.76H196.87V644.74H198.72V651.80H200.57V656.93H202.41V664.05H204.26V668.94H206.11V671.78H207.95V682.77H209.80V690.20H211.65V697.98H213.50V703.91H215.34V712.04H217.19V717.57H219.04V728.23H220.89V735.90H222.73V742.87H224.58V749.69H226.43V754.81H228.28V760.79H230.12V764.09H231.97V766.57H233.82V770.70H235.66V775.96H237.51V775.79H239.36V779.64H241.21V782.91H243.05V785.00H244.90V787.96H246.75V790.57H248.60V792.91H250.44V794.95H252.29V795.97H254.14V796.90H255.99V798.24H257.83V798.87H259.68V799.47H261.53V800.38H263.37V800.94H265.22V801.26H267.07V801.55H268.92V801.80H270.76V802.05H272.61V802.31H274.46V802.48H276.31V802.56H278.15V802.64H280.00V802.73H281.85V802.82H283.70V802.91H285.54V802.99H287.39V803.08H289.24V803.13H291.08V803.15H292.93" fill="none" stroke="#111" stroke-width="1.3" stroke-linejoin="miter"/>
<path d="M47.24,803.30v-5M47.24,592.65v5M56.47,803.30v-5M56.47,592.65v5M65.71,803.30v-5M65.71,592.65v5M74.95,803.30v-10M74.95,592.65v10M84.18,803.30v-5M84.18,592.65v5M93.42,803.30v-5M93.42,592.65v5M102.66,803.30v-5M102.66,592.65v5M111.89,803.30v-10M111.89,592.65v10M121.13,803.30v-5M121.13,592.65v5M130.37,803.30v-5M130.37,592.65v5M139.60,803.30v-5M139.60,592.65v5M148.84,803.30v-10M148.84,592.65v10M158.08,803.30v-5M158.08,592.65v5M167.31,803.30v-5M167.31,592.65v5M176.55,803.30v-5M176.55,592.65v5M185.79,803.30v-10M185.79,592.65v10M195.02,803.30v-5M195.02,592.65v5M204.26,803.30v-5M204.26,592.65v5M213.50,803.30v-5M213.50,592.65v5M222.73,803.30v-10M222.73,592.65v10M231.97,803.30v-5M231.97,592.65v5M241.21,803.30v-5M241.21,592.65v5M250.44,803.30v-5M250.44,592.65v5M259.68,803.30v-10M259.68,592.65v10M268.92,803.30v-5M268.92,592.65v5M278.15,803.30v-5M278.15,592.65v5M287.39,803.30v-5M287.39,592.65v5M296.63,803.30v-10M296.63,592.65v10M305.86,803.30v-5M305.86,592.65v5M315.10,803.30v-5M315.10,592.65v5M324.34,803.30v-5M324.34,592.65v5M38.00,794.52h5M315.10,794.52h-5M38.00,785.75h5M315.10,785.75h-5M38.00,776.97h5M315.10,776.97h-5M38.00,768.19h10M315.10,768.19h-10M38.00,759.41h5M315.10,759.41h-5M38.00,750.64h5M315.10,750.64h-5M38.00,741.86h5M315.10,741.86h-5M38.00,733.08h10M315.10,733.08h-10M38.00,724.31h5M315.10,724.31h-5M38.00,715.53h5M315.10,715.53h-5M38.00,706.75h5M315.10,706.75h-5M38.00,697.97h10M315.10,697.97h-10M38.00,689.20h5M315.10,689.20h-5M38.00,680.42h5M315.10,680.42h-5M38.00,671.64h5M315.10,671.64h-5M38.00,662.87h10M315.10,662.87h-10M38.00,654.09h5M315.10,654.09h-5M38.00,645.31h5M315.10,645.31h-5M38.00,636.54h5M315.10,636.54h-5M38.00,627.76h10M315.10,627.76h-10M38.00,618.98h5M315.10,618.98h-5M38.00,610.20h5M315.10,610.20h-5M38.00,601.43h5M315.10,601.43h-5" fill="none" stroke="#8a8a8a" stroke-width="1.3"/>
<rect x="38.00" y="592.65" width="277.10" height="210.65" fill="none" stroke="#8a8a8a" stroke-width="1.3"/>
<text x="38.00" y="814.40" font-size="10.40" text-anchor="middle" textLength="19.56" lengthAdjust="spacingAndGlyphs">160</text>
<text x="74.95" y="814.40" font-size="10.40" text-anchor="middle" textLength="19.56" lengthAdjust="spacingAndGlyphs">162</text>
<text x="111.89" y="814.40" font-size="10.40" text-anchor="middle" textLength="19.56" lengthAdjust="spacingAndGlyphs">164</text>
<text x="148.84" y="814.40" font-size="10.40" text-anchor="middle" textLength="19.56" lengthAdjust="spacingAndGlyphs">166</text>
<text x="185.79" y="814.40" font-size="10.40" text-anchor="middle" textLength="19.56" lengthAdjust="spacingAndGlyphs">168</text>
<text x="222.73" y="814.40" font-size="10.40" text-anchor="middle" textLength="19.56" lengthAdjust="spacingAndGlyphs">170</text>
<text x="259.68" y="814.40" font-size="10.40" text-anchor="middle" textLength="19.56" lengthAdjust="spacingAndGlyphs">172</text>
<text x="296.63" y="814.40" font-size="10.40" text-anchor="middle" textLength="19.56" lengthAdjust="spacingAndGlyphs">174</text>
<text x="32.50" y="807.30" font-size="10.40" text-anchor="end" textLength="6.52" lengthAdjust="spacingAndGlyphs">0</text>
<text x="32.50" y="772.19" font-size="10.40" text-anchor="end" textLength="6.52" lengthAdjust="spacingAndGlyphs">2</text>
<text x="32.50" y="737.08" font-size="10.40" text-anchor="end" textLength="6.52" lengthAdjust="spacingAndGlyphs">4</text>
<text x="32.50" y="701.97" font-size="10.40" text-anchor="end" textLength="6.52" lengthAdjust="spacingAndGlyphs">6</text>
<text x="32.50" y="666.87" font-size="10.40" text-anchor="end" textLength="6.52" lengthAdjust="spacingAndGlyphs">8</text>
<text x="32.50" y="631.76" font-size="10.40" text-anchor="end" textLength="13.04" lengthAdjust="spacingAndGlyphs">10</text>
<text x="32.50" y="596.65" font-size="10.40" text-anchor="end" textLength="13.04" lengthAdjust="spacingAndGlyphs">12</text>
<text x="67.00" y="584.20" font-size="10.40" text-anchor="start" textLength="219.09" lengthAdjust="spacingAndGlyphs">Semi-major Axis,CTIOPI, 167.76±1.83 mas</text>
<text x="135.11" y="825.20" font-size="10.40" text-anchor="start" textLength="82.88" lengthAdjust="spacingAndGlyphs">milli-arcseconds</text>
<g transform="translate(11.60,733.73) rotate(-90)"><text x="0.00" y="0.00" font-size="10.40" text-anchor="start" textLength="66.79" lengthAdjust="spacingAndGlyphs">Samples / 10</text><text x="67.29" y="-5.60" font-size="6.90" text-anchor="start" textLength="4.33" lengthAdjust="spacingAndGlyphs">4</text></g>
<path d="M483.36,803.25L483.36,803.25H485.03V803.25H486.69V803.25H488.35V803.25H490.01V803.25H491.68V803.25H493.34V803.23H495.00V803.20H496.67V803.18H498.33V803.15H499.99V803.13H501.65V803.11H503.32V803.08H504.98V802.80H506.64V802.41H508.31V802.00H509.97V801.61H511.63V801.24H513.30V800.80H514.96V800.29H516.62V799.77H518.28V799.18H519.95V798.77H521.61V798.15H523.27V796.67H524.94V795.08H526.60V793.74H528.26V791.74H529.92V789.53H531.59V787.90H533.25V784.96H534.91V781.46H536.58V779.78H538.24V775.00H539.90V773.00H541.56V768.06H543.23V763.58H544.89V759.09H546.55V754.60H548.22V747.33H549.88V741.83H551.54V734.81H553.20V730.52H554.87V719.34H556.53V711.98H558.19V701.50H559.86V691.98H561.52V681.11H563.18V675.75H564.84V668.03H566.51V660.47H568.17V655.05H569.83V648.64H571.50V641.49H573.16V636.53H575.00V624.70H576.30V624.30H578.00V617.60H579.20V615.60H580.50V611.00H582.10V608.90H584.60V603.90H586.70V597.60H587.60V600.90H589.20V610.10H590.90V606.40H591.70V603.40H593.40V608.20H596.30V615.60H598.00V618.10H598.80V614.70H600.50V624.70H601.40V630.17H603.09V640.54H604.75V646.78H606.42V652.75H608.08V660.55H609.74V668.94H611.41V675.57H613.07V684.24H614.73V697.36H616.39V700.80H618.06V706.28H619.72V716.64H621.38V727.73H623.05V734.58H624.71V741.39H626.37V747.11H628.04V754.51H629.70V760.73H631.36V764.99H633.02V766.64H634.69V770.09H636.35V773.51H638.01V778.52H639.68V781.45H641.34V782.84H643.00V785.70H644.66V787.77H646.33V789.79H647.99V791.66H649.65V793.38H651.32V795.47H652.98V795.92H654.64V796.82H656.30V797.14H657.97V797.98H659.63V798.59H661.29V799.13H662.96V799.53H664.62V800.00H666.28V800.42H667.94V800.85H669.61V801.30H671.27V801.62H672.93V801.84H674.60V802.07H676.26V802.31H677.92V802.52H679.59V802.77H681.25V802.92H682.91V802.96H684.57V803.02H686.24V803.06H687.90V803.11H689.56V803.16H691.23" fill="none" stroke="#111" stroke-width="1.3" stroke-linejoin="miter"/>
<path d="M444.01,803.25v-5M444.01,592.60v5M457.86,803.25v-5M457.86,592.60v5M471.72,803.25v-5M471.72,592.60v5M485.58,803.25v-5M485.58,592.60v5M499.44,803.25v-10M499.44,592.60v10M513.29,803.25v-5M513.29,592.60v5M527.15,803.25v-5M527.15,592.60v5M541.01,803.25v-5M541.01,592.60v5M554.87,803.25v-5M554.87,592.60v5M568.72,803.25v-10M568.72,592.60v10M582.58,803.25v-5M582.58,592.60v5M596.44,803.25v-5M596.44,592.60v5M610.30,803.25v-5M610.30,592.60v5M624.15,803.25v-5M624.15,592.60v5M638.01,803.25v-10M638.01,592.60v10M651.87,803.25v-5M651.87,592.60v5M665.73,803.25v-5M665.73,592.60v5M679.58,803.25v-5M679.58,592.60v5M693.44,803.25v-5M693.44,592.60v5M430.15,794.47h5M707.30,794.47h-5M430.15,785.70h5M707.30,785.70h-5M430.15,776.92h5M707.30,776.92h-5M430.15,768.14h10M707.30,768.14h-10M430.15,759.36h5M707.30,759.36h-5M430.15,750.59h5M707.30,750.59h-5M430.15,741.81h5M707.30,741.81h-5M430.15,733.03h10M707.30,733.03h-10M430.15,724.26h5M707.30,724.26h-5M430.15,715.48h5M707.30,715.48h-5M430.15,706.70h5M707.30,706.70h-5M430.15,697.92h10M707.30,697.92h-10M430.15,689.15h5M707.30,689.15h-5M430.15,680.37h5M707.30,680.37h-5M430.15,671.59h5M707.30,671.59h-5M430.15,662.82h10M707.30,662.82h-10M430.15,654.04h5M707.30,654.04h-5M430.15,645.26h5M707.30,645.26h-5M430.15,636.49h5M707.30,636.49h-5M430.15,627.71h10M707.30,627.71h-10M430.15,618.93h5M707.30,618.93h-5M430.15,610.15h5M707.30,610.15h-5M430.15,601.38h5M707.30,601.38h-5" fill="none" stroke="#8a8a8a" stroke-width="1.3"/>
<rect x="430.15" y="592.60" width="277.15" height="210.65" fill="none" stroke="#8a8a8a" stroke-width="1.3"/>
<text x="430.15" y="814.40" font-size="10.40" text-anchor="middle" textLength="19.56" lengthAdjust="spacingAndGlyphs">190</text>
<text x="499.44" y="814.40" font-size="10.40" text-anchor="middle" textLength="19.56" lengthAdjust="spacingAndGlyphs">195</text>
<text x="568.72" y="814.40" font-size="10.40" text-anchor="middle" textLength="19.56" lengthAdjust="spacingAndGlyphs">200</text>
<text x="638.01" y="814.40" font-size="10.40" text-anchor="middle" textLength="19.56" lengthAdjust="spacingAndGlyphs">205</text>
<text x="707.30" y="814.40" font-size="10.40" text-anchor="middle" textLength="19.56" lengthAdjust="spacingAndGlyphs">210</text>
<text x="424.65" y="807.25" font-size="10.40" text-anchor="end" textLength="6.52" lengthAdjust="spacingAndGlyphs">0</text>
<text x="424.65" y="772.14" font-size="10.40" text-anchor="end" textLength="6.52" lengthAdjust="spacingAndGlyphs">2</text>
<text x="424.65" y="737.03" font-size="10.40" text-anchor="end" textLength="6.52" lengthAdjust="spacingAndGlyphs">4</text>
<text x="424.65" y="701.92" font-size="10.40" text-anchor="end" textLength="6.52" lengthAdjust="spacingAndGlyphs">6</text>
<text x="424.65" y="666.82" font-size="10.40" text-anchor="end" textLength="6.52" lengthAdjust="spacingAndGlyphs">8</text>
<text x="424.65" y="631.71" font-size="10.40" text-anchor="end" textLength="13.04" lengthAdjust="spacingAndGlyphs">10</text>
<text x="424.65" y="596.60" font-size="10.40" text-anchor="end" textLength="13.04" lengthAdjust="spacingAndGlyphs">12</text>
<text x="460.98" y="584.20" font-size="10.40" text-anchor="start" textLength="215.50" lengthAdjust="spacingAndGlyphs">Semi-major Axis, CAPS, 201.61±1.97 mas</text>
<text x="527.29" y="825.20" font-size="10.40" text-anchor="start" textLength="82.88" lengthAdjust="spacingAndGlyphs">milli-arcseconds</text>
<g transform="translate(404.20,733.68) rotate(-90)"><text x="0.00" y="0.00" font-size="10.40" text-anchor="start" textLength="66.79" lengthAdjust="spacingAndGlyphs">Samples / 10</text><text x="67.29" y="-5.60" font-size="6.90" text-anchor="start" textLength="4.33" lengthAdjust="spacingAndGlyphs">4</text></g>
</svg>
</body></html>
